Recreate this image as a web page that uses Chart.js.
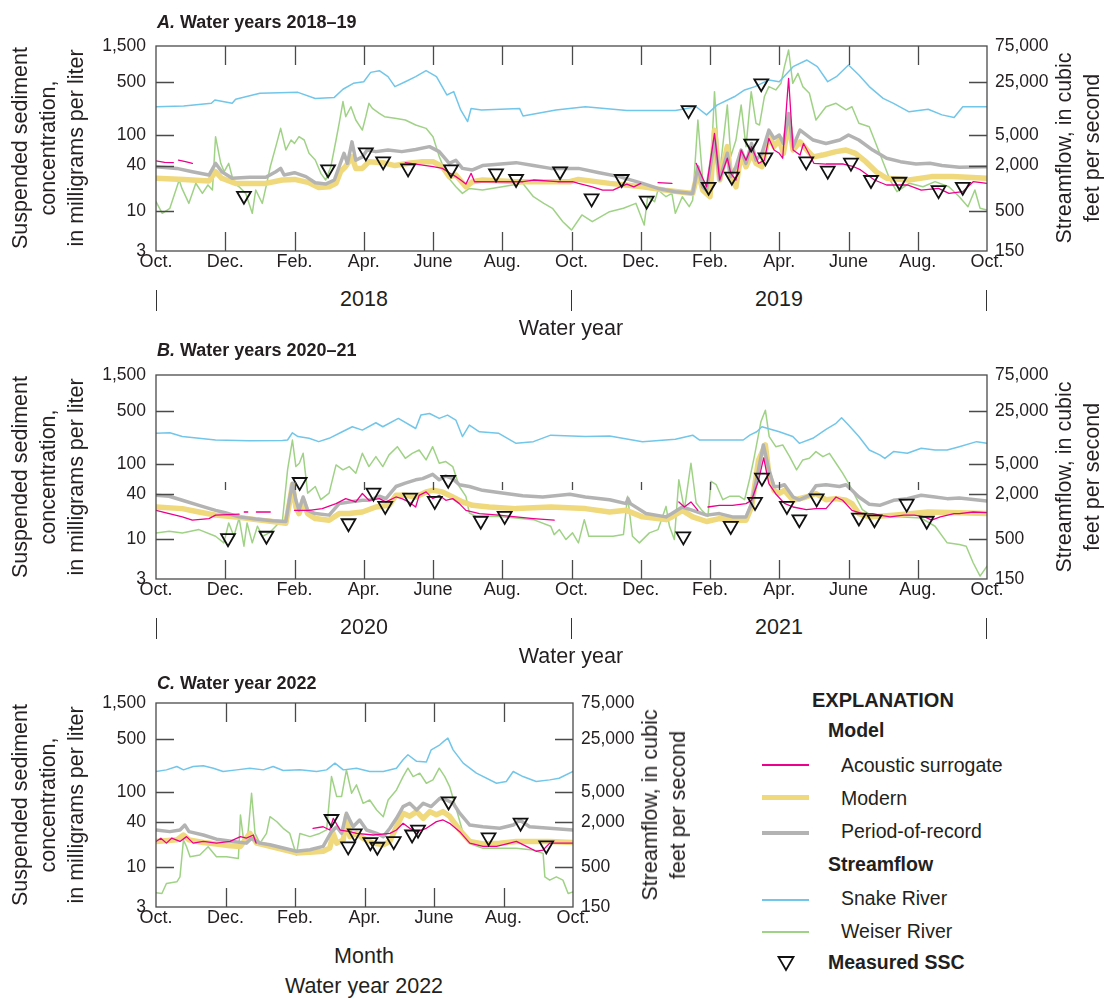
<!DOCTYPE html>
<html>
<head>
<meta charset="utf-8">
<script src="https://cdn.jsdelivr.net/npm/chart.js@4.4.1/dist/chart.umd.min.js"></script>
<style>
  body { margin: 0; background: #fff; }
  #page { position: relative; width: 1107px; height: 999px; overflow: hidden; color: #231f20;
          font-family: 'Liberation Sans', Arial, sans-serif; }
  canvas { position: absolute; left: 0; }
  .t { position: absolute; white-space: nowrap; transform: translate(-50%, -50%); font-size: 21.5px; line-height: 1; }
  .l { position: absolute; white-space: nowrap; transform: translateY(-50%); line-height: 1; }
  .rot { position: absolute; white-space: nowrap; transform: translate(-50%, -50%) rotate(-90deg);
         font-size: 21.5px; line-height: 28px; text-align: center; }
  .sep { position: absolute; width: 1.4px; background: #333; }
  .key { position: absolute; left: 762px; width: 47px; }
  .ttl { font-size: 18px; font-weight: bold; }
  .lg { font-size: 19.5px; }
</style>
</head>
<body>
<div id="page">
  <canvas id="chartA" width="1107" height="280" style="top:0"></canvas>
  <canvas id="chartB" width="1107" height="279" style="top:329px"></canvas>
  <canvas id="chartC" width="700" height="279" style="top:657px"></canvas>

  <!-- panel titles -->
  <div class="l ttl" style="left:157px;top:22px"><i>A.</i> Water years 2018–19</div>
  <div class="l ttl" style="left:157px;top:350px"><i>B.</i> Water years 2020–21</div>
  <div class="l ttl" style="left:157px;top:683px"><i>C.</i> Water year 2022</div>

  <!-- axis titles -->
  <div class="rot" style="left:48px;top:148px">Suspended sediment<br>concentration,<br>in milligrams per liter</div>
  <div class="rot" style="left:48px;top:477px">Suspended sediment<br>concentration,<br>in milligrams per liter</div>
  <div class="rot" style="left:48px;top:805px">Suspended sediment<br>concentration,<br>in milligrams per liter</div>
  <div class="rot" style="left:1078px;top:148px">Streamflow, in cubic<br>feet per second</div>
  <div class="rot" style="left:1078px;top:477px">Streamflow, in cubic<br>feet per second</div>
  <div class="rot" style="left:664px;top:805px">Streamflow, in cubic<br>feet per second</div>

  <!-- water year rows -->
  <div class="sep" style="left:156px;top:290px;height:21px"></div>
  <div class="sep" style="left:571px;top:290px;height:21px"></div>
  <div class="sep" style="left:986px;top:290px;height:21px"></div>
  <div class="t" style="left:364px;top:300px">2018</div>
  <div class="t" style="left:779px;top:300px">2019</div>
  <div class="t" style="left:571px;top:329px">Water year</div>

  <div class="sep" style="left:156px;top:618px;height:21px"></div>
  <div class="sep" style="left:571px;top:618px;height:21px"></div>
  <div class="sep" style="left:986px;top:618px;height:21px"></div>
  <div class="t" style="left:364px;top:628px">2020</div>
  <div class="t" style="left:779px;top:628px">2021</div>
  <div class="t" style="left:571px;top:657px">Water year</div>

  <div class="t" style="left:364px;top:957px">Month</div>
  <div class="t" style="left:364px;top:987px">Water year 2022</div>

  <!-- explanation -->
  <div class="l" style="left:812px;top:700px;font-size:20px;font-weight:bold">EXPLANATION</div>
  <div class="l lg" style="left:828px;top:731px;font-weight:bold">Model</div>
  <div class="key" style="top:764px;height:1.6px;background:#ec008c"></div>
  <div class="l lg" style="left:841px;top:766px">Acoustic surrogate</div>
  <div class="key" style="top:795px;height:5px;background:#efd97c"></div>
  <div class="l lg" style="left:841px;top:799px">Modern</div>
  <div class="key" style="top:831px;height:3.5px;background:#b3b3b3"></div>
  <div class="l lg" style="left:841px;top:832px">Period-of-record</div>
  <div class="l lg" style="left:828px;top:865px;font-weight:bold">Streamflow</div>
  <div class="key" style="top:899px;height:1.6px;background:#72c6e9"></div>
  <div class="l lg" style="left:841px;top:899px">Snake River</div>
  <div class="key" style="top:931px;height:1.6px;background:#a0d286"></div>
  <div class="l lg" style="left:841px;top:932px">Weiser River</div>
  <svg style="position:absolute;left:776px;top:954px" width="20" height="18">
    <polygon points="2.5,3 17.5,3 10,16" fill="none" stroke="#111" stroke-width="1.8"/>
  </svg>
  <div class="l lg" style="left:828px;top:963px;font-weight:bold">Measured SSC</div>
</div>

<script>
// --- tick labels ---
const monthNames = ['Oct.', 'Dec.', 'Feb.', 'Apr.', 'June', 'Aug.'];
const monthTicks2yr = [0, 2, 4, 6, 8, 10, 12, 14, 16, 18, 20, 22, 24];
const monthTicks1yr = [0, 2, 4, 6, 8, 10, 12];
const ssTicks = [3, 10, 40, 100, 500, 1500];
const flowTicks = [150, 500, 2000, 5000, 25000, 75000];

// x = months after October 1 of the first water year; SSC in mg/L, streamflow in ft3/s

// --- A. water years 2018-19 ---
const snakeA = [[0,11900],[0.8,12200],[1.6,13200],[1.7,14600],[2.2,13200],[2.3,14900],[3.0,17900],[4.1,18400],[4.6,15300],[5.15,15800],[5.4,20200],[5.7,24200],[6.0,25400],[6.2,33700],[6.45,35500],[6.7,29600],[6.9,21900],[7.2,25400],[7.5,29600],[7.8,35500],[8.1,29600],[8.4,17000],[8.6,18800],[8.8,10800],[9.0,7600],[9.1,11300],[9.4,10800],[10.5,11300],[10.6,9000],[11.55,10800],[12.4,11900],[13.6,10600],[15.0,10600],[15.6,11900],[15.9,9300],[16.2,12500],[16.7,16100],[17.0,19800],[17.3,21900],[17.7,26800],[18.0,25400],[18.4,40100],[18.8,49000],[19.1,40100],[19.4,25400],[19.65,29600],[20.0,42100],[20.3,31100],[20.6,21900],[21.0,15300],[21.3,13200],[21.75,10200],[22.3,11000],[22.7,9300],[23.05,8600],[23.3,11900],[24,11900]];
const weiserA = [[0,668],[0.18,470],[0.4,547],[0.67,1290],[0.75,1000],[0.95,636],[1.15,1170],[1.34,861],[1.5,1110],[1.63,953],[1.72,4800],[1.87,2140],[1.97,1660],[2.1,2140],[2.25,1170],[2.4,1050],[2.59,861],[2.78,470],[2.88,953],[3.07,636],[3.2,1170],[3.3,1930],[3.46,3550],[3.6,6180],[3.75,3210],[3.9,4340],[4.0,3920],[4.13,4800],[4.28,4340],[4.42,2900],[4.6,2370],[4.76,1580],[4.9,1290],[5.05,1930],[5.2,4340],[5.29,7200],[5.4,13900],[5.48,8800],[5.63,11900],[5.77,7950],[5.96,5870],[6.06,8800],[6.15,13200],[6.25,11300],[6.45,9700],[6.6,8800],[6.9,8400],[7.2,7950],[7.5,6840],[7.8,6180],[8.0,4800],[8.18,2620],[8.42,1430],[8.66,1050],[8.85,861],[9.05,1000],[9.43,953],[10.0,1050],[10.59,1170],[10.9,778],[11.2,636],[11.45,547],[11.75,365],[11.95,298],[12.0,283],[12.3,447],[12.6,365],[13.1,494],[13.5,547],[13.86,636],[14.1,330],[14.2,778],[14.4,668],[14.5,953],[14.73,778],[14.9,861],[15.0,470],[15.2,778],[15.4,575],[15.5,703],[15.65,7950],[15.79,1290],[16.0,1050],[16.13,18800],[16.28,1580],[16.5,12500],[16.6,2620],[16.75,4340],[16.9,12500],[17.04,3550],[17.19,18800],[17.33,7200],[17.43,6840],[17.57,16100],[17.7,21900],[17.9,19800],[18.05,24200],[18.15,40100],[18.27,66400],[18.39,24200],[18.54,32700],[18.68,21900],[18.87,17900],[19.06,7950],[19.35,11900],[19.64,13200],[19.93,10800],[20.1,11900],[20.3,7200],[20.6,6500],[20.9,2900],[21.2,1290],[21.4,905],[21.76,1170],[22.15,1050],[22.5,1230],[22.9,1050],[23.2,778],[23.45,575],[23.65,953],[23.8,547],[24,520]];
const porA = [[0,38.6],[0.6,36.7],[1.05,33.2],[1.53,30],[1.72,42.8],[1.9,33.2],[2.2,27.2],[2.7,28],[3.17,28],[3.46,33.2],[3.6,36.7],[3.7,30],[4.0,32.2],[4.33,28.6],[4.6,23.8],[4.9,22.8],[5.15,25.8],[5.29,38.6],[5.43,58],[5.53,42.8],[5.66,82],[5.77,47],[5.96,52],[6.1,64],[6.35,61],[6.7,64],[7.1,61],[7.5,65],[7.9,71],[8.18,61],[8.47,42.8],[8.66,47],[8.85,36.7],[9.14,35],[9.43,40],[10.4,43.7],[10.9,40],[11.4,36.7],[12.2,36.7],[12.8,32.2],[13.38,28.6],[14.05,23.3],[14.5,20],[15.0,18.1],[15.5,17.2],[15.65,38.6],[15.79,21],[15.9,19],[16.13,86.7],[16.28,25.8],[16.5,58],[16.6,28.6],[16.75,38.6],[16.9,64],[17.04,42.8],[17.2,78],[17.33,47],[17.5,58],[17.7,117],[17.85,91],[18.0,101],[18.12,78],[18.27,194],[18.4,71],[18.6,117],[18.98,86.7],[19.35,78],[19.75,86.7],[20.0,101],[20.3,86.7],[20.7,64],[21.1,50],[21.5,45],[21.95,41.9],[22.35,42.8],[22.7,40],[23.2,37.9],[24,38.6]];
const modernA = [[0,27.2],[0.8,26.3],[1.53,25.1],[1.72,33.2],[1.9,27.2],[2.3,23.3],[3.17,23.3],[3.65,25.8],[4.0,26.3],[4.42,23.8],[4.7,20.6],[5.0,21],[5.2,23.3],[5.33,33.2],[5.47,38.6],[5.66,52],[5.77,36.7],[5.96,36.7],[6.15,45],[6.55,43.7],[6.9,40],[7.3,42.8],[7.7,45],[8.0,45],[8.27,38.6],[8.47,28.6],[8.66,30],[8.95,21],[9.14,24.5],[9.43,25.8],[10.4,24.5],[11.95,24.5],[12.2,26.3],[13.1,23.3],[14.05,21],[14.7,19],[15.5,17.2],[15.65,33.2],[15.79,19],[16.0,15.6],[16.13,117],[16.28,25.8],[16.5,71],[16.6,28.6],[16.75,21],[16.9,58],[17.04,38.6],[17.2,58],[17.33,42.8],[17.5,38.6],[17.7,101],[17.85,71],[18.0,86.7],[18.12,58],[18.27,150],[18.4,64],[18.6,82],[18.8,64],[18.98,52],[19.25,55],[19.64,61],[19.93,64],[20.2,58],[20.5,45],[20.8,33.2],[21.1,27.2],[21.75,25.8],[22.4,28.6],[23.0,28.6],[24,27.2]];
const acousticA = [[0,46],[0.25,44],[0.5,43.7],[0.57,null],[0.65,47],[0.85,45],[1.05,42.8],[4,null],[7.2,43.7],[7.5,41.9],[8.0,38.6],[8.27,36.7],[8.47,32.2],[8.66,28.6],[8.8,25.8],[8.95,22.8],[9.1,31.6],[9.2,24.5],[9.5,24.5],[10.6,24.5],[10.9,25.8],[11.6,24.5],[12.03,24.5],[12.2,23.3],[12.6,21],[12.9,19],[13.2,19],[13.4,21],[13.6,22.8],[13.8,21],[14.0,23.3],[14.25,null],[14.5,23.8],[14.9,23.3],[15.2,null],[15.6,42.8],[15.9,21],[16.13,106],[16.28,25.8],[16.5,50],[16.6,31.6],[16.75,25.8],[16.9,64],[17.04,47],[17.2,71],[17.4,42.8],[17.57,47],[17.7,91],[17.85,64],[18.0,58],[18.1,50],[18.27,563],[18.4,64],[18.6,55],[18.7,78],[18.85,58],[19.0,42.8],[19.35,41.9],[19.85,41.9],[20.15,38.6],[20.35,35],[20.75,25.8],[21.1,22.2],[21.7,22.2],[22.1,19],[22.6,20],[22.9,17.2],[23.3,18.1],[23.6,24.5],[24,23.3]];
const sscA = [[2.54,16],[4.97,35.7],[6.06,59.7],[6.56,45.4],[7.28,36.7],[8.52,35.7],[9.82,31.6],[10.4,26.6],[11.67,33.6],[12.58,14.8],[13.45,26.6],[14.17,13.8],[15.38,215],[15.96,21],[16.63,28.6],[17.19,78],[17.48,484],[17.6,51.3],[18.78,45.4],[19.4,34.3],[20.07,43.7],[20.65,25.8],[21.47,24.5],[22.6,19],[23.3,21]];

// --- B. water years 2020-21 ---
const snakeB = [[0,12700],[0.4,12900],[0.76,11500],[1.24,10900],[1.72,10350],[2.69,10100],[3.65,10200],[3.8,10350],[3.94,12900],[4.1,11500],[4.42,10900],[4.7,9850],[5.0,10900],[5.38,13300],[5.67,15500],[5.96,14000],[6.35,17500],[6.55,15500],[7.0,20000],[7.5,14700],[7.65,22100],[7.9,23200],[8.18,20000],[8.42,22100],[8.66,19000],[8.85,11500],[9.05,16300],[9.34,13300],[9.9,12700],[10.4,9350],[10.9,9850],[11.4,12000],[12.4,11500],[13.1,11700],[14.05,9850],[15.0,10600],[15.5,12000],[15.7,10350],[16.4,10350],[16.96,10350],[17.15,12000],[17.35,13300],[17.5,15500],[18.0,13300],[18.39,11500],[18.58,9350],[18.97,10900],[19.35,14300],[19.64,17200],[19.8,20400],[20.0,16300],[20.3,11500],[20.6,7640],[20.9,6580],[21.05,5930],[21.3,7270],[21.7,6900],[22.1,8050],[22.5,7640],[22.85,7640],[23.2,8450],[23.7,9850],[24,9350]];
const weiserB = [[0,611],[0.38,642],[0.76,611],[1.24,676],[1.72,552],[1.96,451],[2.1,827],[2.25,552],[2.4,960],[2.54,407],[2.63,827],[2.78,451],[2.93,748],[3.08,552],[3.27,611],[3.5,785],[3.65,870],[3.8,4170],[3.94,10350],[4.04,4610],[4.14,5100],[4.25,6900],[4.38,2050],[4.6,2510],[4.76,1680],[5.0,2050],[5.2,4850],[5.4,4170],[5.58,4610],[5.77,3770],[5.96,6900],[6.15,4610],[6.35,6240],[6.55,4610],[6.73,6580],[6.97,8450],[7.2,5930],[7.4,6900],[7.6,7640],[7.8,5640],[7.99,8450],[8.18,5100],[8.37,5370],[8.57,4610],[8.76,2510],[8.95,1860],[9.05,1120],[9.24,1010],[9.9,1010],[10.4,960],[10.9,915],[11.4,748],[11.5,580],[11.65,676],[11.84,499],[12.03,611],[12.2,451],[12.37,915],[12.5,552],[12.8,552],[13.2,552],[13.5,580],[13.62,1860],[13.76,552],[13.96,451],[14.25,611],[14.5,676],[14.73,1370],[14.83,748],[14.97,499],[15.1,3080],[15.26,1240],[15.45,5100],[15.6,1520],[15.75,1240],[15.94,1010],[16.03,2940],[16.18,2650],[16.37,1680],[16.56,1860],[16.85,1860],[17.0,1680],[17.14,3080],[17.28,6240],[17.47,18000],[17.6,25700],[17.71,11450],[17.9,8450],[18.1,8900],[18.3,6240],[18.5,4170],[18.68,5640],[18.87,5930],[19.06,7270],[19.26,6240],[19.45,6900],[19.64,5100],[19.83,3770],[20.0,2780],[20.2,1860],[20.4,1240],[20.7,1010],[21.3,1010],[22.1,960],[22.5,748],[22.85,451],[23.2,428],[23.4,407],[23.6,246],[23.8,164],[24,222]];
const porB = [[0,38.4],[0.38,37.3],[0.76,33],[1.24,28.3],[1.72,24.3],[2.0,22.6],[2.4,19.9],[2.88,18.6],[3.36,17.7],[3.75,17.3],[3.85,33],[3.94,55.6],[4.04,33],[4.13,24.3],[4.25,36.5],[4.38,24.3],[4.6,22],[5.0,21],[5.29,29.8],[5.58,31.4],[5.96,33],[6.15,33],[6.45,37.3],[6.64,34.7],[6.93,50.2],[7.2,55.6],[7.5,61.6],[7.7,63.8],[7.99,72.8],[8.18,61.6],[8.37,69],[8.57,63.8],[8.76,53],[9.05,50.2],[9.43,44.7],[10.0,41.2],[10.59,37.8],[11.17,36.5],[11.95,39.6],[12.4,36.5],[13.1,33.5],[13.58,29.8],[13.63,34.7],[13.7,29.8],[14.15,22],[14.73,19.9],[14.9,22],[15.2,26.9],[15.5,24.3],[15.9,21],[16.27,22],[16.65,19.9],[17.04,19.9],[17.2,29.8],[17.4,83.4],[17.54,178],[17.7,83.4],[17.85,50.2],[18.0,50.2],[18.15,53],[18.4,36.5],[18.58,33.5],[18.87,38.4],[19.06,51.3],[19.35,53],[19.74,50.2],[19.93,53],[20.1,44.7],[20.3,36.5],[20.6,29.2],[20.9,28.3],[21.3,33],[21.7,34.7],[22.1,38.4],[22.5,36.5],[22.85,34.7],[23.2,35.5],[24,32.4]];
const modernB = [[0,26.9],[0.76,25.6],[1.24,23.1],[1.72,21],[2.3,19.9],[2.88,18.3],[3.36,17.3],[3.75,16.4],[3.85,29.8],[3.94,53],[4.04,26.9],[4.13,22],[4.25,33],[4.38,22],[4.6,18.9],[5.0,18],[5.29,22],[5.58,22],[5.96,23.1],[6.35,26.9],[6.73,28.3],[6.93,38.4],[7.2,38.4],[7.5,36.5],[7.8,42.6],[7.99,44.7],[8.27,42.6],[8.57,36.5],[8.85,31.4],[9.14,28.3],[9.62,26.9],[10.4,25.6],[11.4,26.9],[12.4,25.6],[13.1,23.1],[13.58,24.3],[14.05,19.9],[14.73,18.3],[14.9,19.9],[15.2,24.3],[15.5,19.9],[15.9,17.3],[16.27,18.9],[16.65,18],[17.04,18],[17.2,26.9],[17.4,111],[17.6,178],[17.7,74.3],[17.85,44.7],[18.0,40.6],[18.15,44.7],[18.4,33],[18.78,36.5],[19.06,40.6],[19.35,33.5],[19.64,34.7],[19.93,33],[20.1,29.8],[20.3,22],[20.6,19.9],[21.3,21],[22.3,23.1],[23.2,22.6],[24,22]];
const acousticB = [[0,24.3],[0.38,22],[0.76,19.9],[1.05,18],[1.53,18.9],[1.72,21],[2.4,21.6],[2.47,null],[2.55,23.1],[2.65,23.1],[2.75,null],[2.9,23.1],[3.3,23.1],[3.6,null],[4.0,24.3],[4.42,24.3],[4.8,25.6],[5.2,29.8],[5.48,34.7],[5.77,31.4],[5.96,40.6],[6.15,33],[6.45,34.7],[6.64,31.4],[6.93,36.5],[7.1,34.7],[7.3,31.4],[7.5,26.9],[7.6,38.4],[7.8,42.6],[7.99,34.7],[8.18,38.4],[8.37,33],[8.57,34.7],[8.76,29.8],[8.95,24.3],[9.34,22],[9.9,21],[10.4,19.9],[10.9,18.9],[11.5,18],[13,null],[15.1,31.4],[15.26,26.9],[15.45,31.4],[15.65,24.3],[15.8,null],[15.94,26.9],[16.27,28.3],[16.65,28.3],[17.04,29.8],[17.2,33],[17.4,60],[17.55,120],[17.7,55],[17.9,40],[18.15,30],[18.4,26.9],[18.78,24.9],[19.06,25.6],[19.35,25.6],[19.64,36.5],[19.83,33],[20.1,24.3],[20.4,22],[20.7,22],[20.9,21],[21.2,19.9],[21.6,21],[21.9,21],[22.2,19.9],[22.4,18],[22.65,19.9],[23.05,22],[23.2,22],[23.6,23.1],[24,22.6]];
const sscB = [[2.08,10.4],[3.19,11.2],[4.15,57.6],[5.56,16.4],[6.28,41.7],[6.62,27.8],[7.34,35.8],[8.05,32.4],[8.44,61.6],[9.38,17.7],[10.07,20.5],[15.23,11],[16.6,15.1],[17.3,31.4],[17.5,65.8],[18.22,27.8],[18.58,18.5],[19.08,35],[20.3,19.5],[20.75,18.5],[21.68,29.8],[22.26,17.7]];

// --- C. water year 2022 ---
const snakeC = [[0,9300],[0.3,9780],[0.6,10840],[0.79,9780],[1.07,10840],[1.36,11100],[1.65,10300],[1.93,9300],[2.32,9780],[2.7,10300],[3.09,9780],[3.37,10840],[3.66,9580],[4.14,9780],[4.62,9300],[4.91,9780],[5.15,12000],[5.39,9780],[5.77,10300],[6.15,9300],[6.54,9300],[6.92,10300],[7.11,13300],[7.25,15500],[7.5,12700],[7.78,12400],[7.92,18000],[8.17,21000],[8.28,23300],[8.4,25700],[8.55,18000],[8.84,12000],[9.22,8850],[9.8,6510],[10.08,6860],[10.28,9300],[10.56,7980],[10.94,6860],[11.33,7210],[11.6,7580],[12,9300]];
const weiserC = [[0,231],[0.17,226],[0.3,307],[0.6,323],[0.69,376],[0.79,1150],[0.88,940],[0.98,693],[1.26,730],[1.5,940],[1.74,693],[2.03,693],[2.37,658],[2.43,2480],[2.52,1150],[2.63,1150],[2.75,4800],[2.85,1410],[2.99,1040],[3.18,1410],[3.28,2350],[3.47,2030],[3.66,1650],[3.85,1410],[4.04,730],[4.14,1410],[4.43,1280],[4.71,1410],[4.91,1570],[5.05,7980],[5.2,4330],[5.34,4330],[5.48,9780],[5.63,4800],[5.77,6190],[5.96,3530],[6.15,3910],[6.35,2880],[6.54,2350],[6.68,3910],[6.92,5310],[7.11,7980],[7.25,10300],[7.4,7980],[7.59,8850],[7.78,6510],[7.97,7210],[8.15,10300],[8.31,7980],[8.45,5880],[8.65,2880],[8.84,1410],[9.03,1040],[9.41,895],[9.89,895],[10.37,895],[10.85,850],[11.14,768],[11.19,376],[11.33,340],[11.52,376],[11.71,340],[11.86,226],[12,238]];
const porC = [[0,31.3],[0.4,29.8],[0.69,31.3],[0.83,36.4],[0.95,29.8],[1.36,26.9],[1.74,23.7],[2.22,22.1],[2.6,21],[2.75,24.4],[2.99,21],[3.28,20],[3.66,18.1],[4.04,16.4],[4.43,17.2],[4.81,19],[5.05,29.8],[5.2,34.6],[5.34,28.3],[5.48,52.2],[5.67,34.6],[5.86,42.5],[6.06,31.3],[6.35,28.3],[6.54,25.6],[6.73,33],[6.92,44.7],[7.11,63.9],[7.3,70.7],[7.5,57.7],[7.69,70.7],[7.92,63.9],[8.17,82.4],[8.36,78.2],[8.55,70.7],[8.74,52.2],[9.03,36.4],[9.41,34.6],[9.89,33],[10.28,36.4],[10.47,42.5],[10.75,34.6],[11.33,33],[12,31.3]];
const modernC = [[0,22.1],[0.6,23.2],[0.79,26.9],[0.95,23.2],[1.36,21.4],[1.74,20.5],[2.13,19.4],[2.43,19],[2.7,28.3],[2.9,21],[3.28,19],[3.66,17.2],[4.04,15.6],[4.43,15.9],[4.81,16.4],[5.0,18.1],[5.1,28.3],[5.2,21],[5.39,23.2],[5.48,47.5],[5.58,25.6],[5.77,28.3],[5.96,24.4],[6.25,21],[6.54,20],[6.73,22.1],[6.92,34.6],[7.11,52.2],[7.3,47.5],[7.5,54.8],[7.69,44.7],[7.88,54.8],[8.07,49.8],[8.26,54.8],[8.45,47.5],[8.74,31.3],[9.03,22.1],[9.41,20.5],[9.89,21],[10.37,22.1],[11.33,22.1],[12,21.4]];
const acousticC = [[0,22.1],[0.14,24.4],[0.3,21],[0.45,24.4],[0.69,22.1],[0.88,25.6],[1.07,21],[1.36,22.1],[1.74,21],[2.13,22.1],[2.43,25.6],[2.6,24.4],[2.8,26.9],[2.88,21],[3.5,null],[4.52,33],[4.81,34.6],[5.0,31.3],[5.1,44.7],[5.3,31.3],[5.58,29.8],[5.77,28.3],[6.25,26.9],[6.73,28.3],[6.92,31.3],[7.11,38.4],[7.3,33],[7.5,29.8],[7.78,33],[8.07,40.4],[8.26,42.5],[8.45,38.4],[8.74,29.8],[9.03,21],[9.41,19],[9.8,19],[10.18,21],[10.37,22.1],[10.66,19],[10.94,16.4],[11.14,17],[11.33,21],[12,21]];
const sscC = [[5.05,43.8],[5.53,19],[5.72,28.3],[6.17,21.6],[6.37,18.8],[6.84,22.3],[7.37,27.3],[7.54,31.7],[8.42,74.8],[9.57,25],[10.49,39.2],[11.23,19.6]];

const FONT = "'Liberation Sans', Arial, sans-serif";
const INK = '#231f20';

// frame and inward tick marks, like the printed figure
const frameTicks = {
  id: 'frameTicks',
  afterDraw(chart, args, o) {
    const { ctx, chartArea: a, scales } = chart;
    ctx.save();
    ctx.strokeStyle = '#4a4a4a';
    ctx.lineWidth = 1.3;
    ctx.strokeRect(a.left, a.top, a.right - a.left, a.bottom - a.top);
    ctx.beginPath();
    scales.x.ticks.forEach(t => {
      if (t.value <= scales.x.min || t.value >= scales.x.max) return;
      const x = Math.round(scales.x.getPixelForValue(t.value)) + 0.5;
      ctx.moveTo(x, a.bottom); ctx.lineTo(x, a.bottom - 19);
      ctx.moveTo(x, a.top + o.topTick[0]); ctx.lineTo(x, a.top + o.topTick[1]);
    });
    [10, 40, 100, 500].forEach(v => {
      const y = Math.round(scales.y.getPixelForValue(v)) + 0.5;
      ctx.moveTo(a.left, y); ctx.lineTo(a.left + 18, y);
    });
    [500, 2000, 5000, 25000].forEach(v => {
      const y = Math.round(scales.y2.getPixelForValue(v)) + 0.5;
      ctx.moveTo(a.right, y); ctx.lineTo(a.right - 18, y);
    });
    ctx.stroke();
    ctx.restore();
  }
};

function xy(arr) {
  return arr.map(p => ({ x: p[0], y: p[1] }));
}

function makeChart(id, d, xTicks, rightW, topTick) {
  const months = xTicks[xTicks.length - 1];
  return new Chart(document.getElementById(id), {
    type: 'line',
    data: {
      datasets: [
        { label: 'Measured SSC', data: xy(d.ssc), yAxisID: 'y', showLine: false, order: 0,
          pointStyle: 'triangle', pointRotation: 180, pointRadius: 8, pointBorderWidth: 1.8,
          pointBorderColor: '#111', pointBackgroundColor: 'rgba(0,0,0,0)' },
        { label: 'Acoustic surrogate', data: xy(d.acoustic), yAxisID: 'y', borderColor: '#ec008c', borderWidth: 1.3, order: 1 },
        { label: 'Period-of-record', data: xy(d.por), yAxisID: 'y', borderColor: '#b3b3b3', borderWidth: 3.5, order: 2 },
        { label: 'Modern', data: xy(d.modern), yAxisID: 'y', borderColor: '#efd97c', borderWidth: 5.5, order: 3 },
        { label: 'Snake River', data: xy(d.snake), yAxisID: 'y2', borderColor: '#72c6e9', borderWidth: 1.5, order: 4 },
        { label: 'Weiser River', data: xy(d.weiser), yAxisID: 'y2', borderColor: '#a0d286', borderWidth: 1.5, order: 5 }
      ]
    },
    options: {
      responsive: false,
      animation: false,
      devicePixelRatio: 1,
      layout: { padding: { top: 46, left: 0, right: 0, bottom: 0 } },
      elements: { point: { radius: 0 }, line: { tension: 0, borderJoinStyle: 'round', borderCapStyle: 'round' } },
      plugins: { legend: { display: false }, tooltip: { enabled: false }, frameTicks: { topTick } },
      scales: {
        x: {
          type: 'linear', min: 0, max: months,
          afterFit: s => { s.height = 29; },
          afterBuildTicks: s => { s.ticks = xTicks.map(v => ({ value: v })); },
          grid: { display: false, drawTicks: false }, border: { display: false },
          ticks: { autoSkip: false, maxRotation: 0, padding: 0, color: INK, font: { family: FONT, size: 18 },
                   callback: v => monthNames[(v / 2) % 6] }
        },
        y: {
          type: 'logarithmic', position: 'left', min: 3, max: 1500,
          afterFit: s => { s.width = 156; },
          afterBuildTicks: s => { s.ticks = ssTicks.map(v => ({ value: v })); },
          grid: { display: false, drawTicks: false }, border: { display: false },
          ticks: { autoSkip: false, padding: 10, color: INK, font: { family: FONT, size: 17.5 },
                   callback: v => v.toLocaleString('en-US') }
        },
        y2: {
          type: 'logarithmic', position: 'right', min: 150, max: 75000,
          afterFit: s => { s.width = rightW; },
          afterBuildTicks: s => { s.ticks = flowTicks.map(v => ({ value: v })); },
          grid: { display: false, drawTicks: false }, border: { display: false },
          ticks: { autoSkip: false, padding: 8, color: INK, font: { family: FONT, size: 17.5 },
                   callback: v => v.toLocaleString('en-US') }
        }
      }
    },
    plugins: [frameTicks]
  });
}

makeChart('chartA', { snake: snakeA, weiser: weiserA, por: porA, modern: modernA, acoustic: acousticA, ssc: sscA },
  monthTicks2yr, 120, [0, 19]);
makeChart('chartB', { snake: snakeB, weiser: weiserB, por: porB, modern: modernB, acoustic: acousticB, ssc: sscB },
  monthTicks2yr, 120, [107, 115]);
makeChart('chartC', { snake: snakeC, weiser: weiserC, por: porC, modern: modernC, acoustic: acousticC, ssc: sscC },
  monthTicks1yr, 127, [0, 19]);
</script>
</body>
</html>
